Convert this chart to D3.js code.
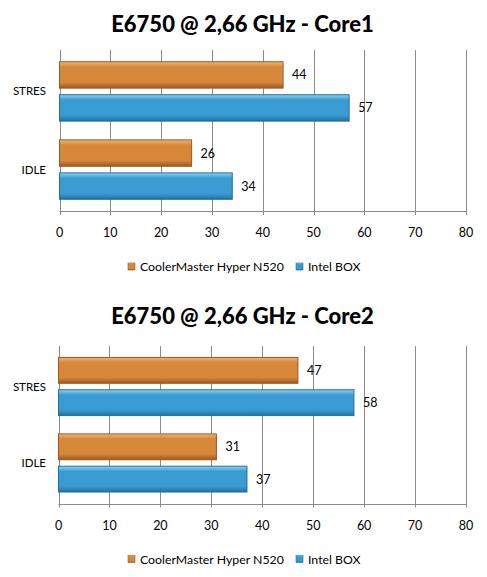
<!DOCTYPE html>
<html>
<head>
<meta charset="utf-8">
<script src="https://cdn.jsdelivr.net/npm/d3@7"></script>
<style>
  body { margin: 0; background: #fff; }
  svg { display: block; }
</style>
</head>
<body>
<div id="chart"></div>
<script>
// data
var categories = ["STRES", "IDLE"];
var seriesNames = ["CoolerMaster Hyper N520", "Intel BOX"];
var titles = ["E6750 @ 2,66 GHz - Core1", "E6750 @ 2,66 GHz - Core2"];
var core1Cooler = [44, 26];
var core1Intel = [57, 34];
var core2Cooler = [47, 31];
var core2Intel = [58, 37];
var xTicks = [0, 10, 20, 30, 40, 50, 60, 70, 80];

var width = 487, height = 577;
var colors = [
  { light: "#f0b574", mid: "#d6873a", dark: "#9c5a22" },
  { light: "#8fd3f2", mid: "#3a9bd2", dark: "#23709f" }
];

var svg = d3.select("#chart").append("svg")
  .attr("width", width)
  .attr("height", height);

var defs = svg.append("defs");
colors.forEach(function(c, i) {
  var g = defs.append("linearGradient")
    .attr("id", "grad" + i)
    .attr("x1", 0).attr("y1", 0).attr("x2", 0).attr("y2", 1);
  g.append("stop").attr("offset", "0%").attr("stop-color", c.light);
  g.append("stop").attr("offset", "20%").attr("stop-color", c.mid);
  g.append("stop").attr("offset", "78%").attr("stop-color", c.mid);
  g.append("stop").attr("offset", "100%").attr("stop-color", c.dark);
});

var panels = [
  { top: 0, title: titles[0], values: [core1Cooler, core1Intel], plotTop: 50, plotBottom: 211, titleY: 32, x0: 59.5 },
  { top: 290, title: titles[1], values: [core2Cooler, core2Intel], plotTop: 56, plotBottom: 213.5, titleY: 34, x0: 58.5 }
];

var font = "Lato, 'Open Sans', sans-serif";

panels.forEach(function(p) {
  var g = svg.append("g").attr("transform", "translate(0," + p.top + ")");

  var x = d3.scaleLinear().domain([0, 80]).range([p.x0, 466]);
  var y = d3.scaleBand().domain(categories)
    .range([p.plotTop, p.plotBottom])
    .paddingInner(0.24)
    .paddingOuter(0.15);
  var ySeries = d3.scaleBand().domain(d3.range(seriesNames.length))
    .range([0, y.bandwidth()])
    .paddingInner(0.2);

  g.append("text")
    .attr("x", width / 2 - 1)
    .attr("y", p.titleY)
    .attr("text-anchor", "middle")
    .attr("font-family", font)
    .attr("font-weight", 900)
    .attr("font-size", 22)
    .attr("fill", "#000")
    .text(p.title);

  // grid
  g.selectAll(".grid")
    .data(xTicks)
    .enter()
    .append("line")
    .attr("x1", function(d) { return Math.round(x(d)) + 0.5; })
    .attr("x2", function(d) { return Math.round(x(d)) + 0.5; })
    .attr("y1", p.plotTop)
    .attr("y2", p.plotBottom + 4)
    .attr("stroke", "#8a8a8a")
    .attr("stroke-width", 1);

  g.append("line")
    .attr("x1", x(0)).attr("x2", x(80))
    .attr("y1", Math.round(p.plotBottom) + 0.5)
    .attr("y2", Math.round(p.plotBottom) + 0.5)
    .attr("stroke", "#8a8a8a");

  g.selectAll(".tick-label")
    .data(xTicks)
    .enter()
    .append("text")
    .attr("x", function(d) { return x(d); })
    .attr("y", p.plotBottom + 26)
    .attr("text-anchor", "middle")
    .attr("font-family", font)
    .attr("font-size", 12.5)
    .attr("fill", "#000")
    .text(function(d) { return d; });

  g.selectAll(".cat-label")
    .data(categories)
    .enter()
    .append("text")
    .attr("x", 46)
    .attr("y", function(d) { return y(d) + y.bandwidth() / 2 + 4; })
    .attr("text-anchor", "end")
    .attr("font-family", font)
    .attr("font-size", 11.5)
    .attr("fill", "#000")
    .text(function(d) { return d; });

  p.values.forEach(function(vals, si) {
    var bars = g.selectAll(".bar" + si)
      .data(categories)
      .enter()
      .append("g");

    bars.append("rect")
      .attr("x", x(0))
      .attr("y", function(d) { return y(d) + ySeries(si); })
      .attr("width", function(d, i) { return x(vals[i]) - x(0); })
      .attr("height", ySeries.bandwidth())
      .attr("fill", "url(#grad" + si + ")")
      .attr("stroke", colors[si].dark)
      .attr("stroke-width", 1);

    bars.append("text")
      .attr("x", function(d, i) { return x(vals[i]) + 9; })
      .attr("y", function(d) { return y(d) + ySeries(si) + ySeries.bandwidth() / 2 + 4.5; })
      .attr("font-family", font)
      .attr("font-size", 12.5)
      .attr("fill", "#000")
      .text(function(d, i) { return vals[i]; });
  });

  // legend
  var legendX = [128, 296];
  var legend = g.selectAll(".legend")
    .data(seriesNames)
    .enter()
    .append("g")
    .attr("transform", function(d, i) { return "translate(" + legendX[i] + "," + (p.plotBottom + 60) + ")"; });

  legend.append("rect")
    .attr("x", 0).attr("y", -8)
    .attr("width", 7).attr("height", 7)
    .attr("fill", function(d, i) { return "url(#grad" + i + ")"; })
    .attr("stroke", function(d, i) { return colors[i].dark; })
    .attr("stroke-width", 0.6);

  legend.append("text")
    .attr("x", 12)
    .attr("y", 0)
    .attr("font-family", font)
    .attr("font-size", 12.3)
    .attr("fill", "#000")
    .text(function(d) { return d; });
});
</script>
</body>
</html>
